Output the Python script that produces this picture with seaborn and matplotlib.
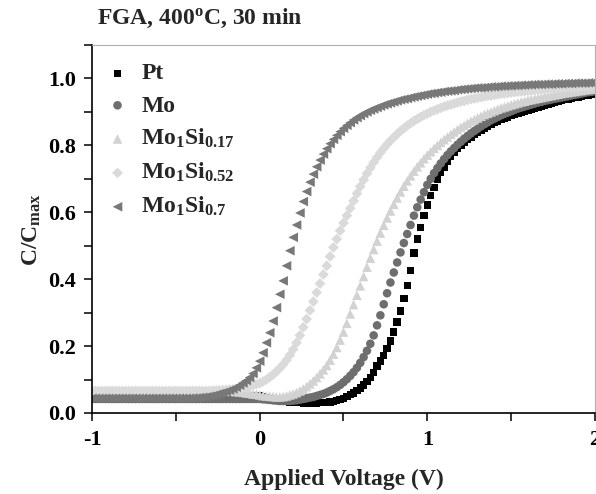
import numpy as np
import pandas as pd
import matplotlib
matplotlib.use("Agg")
import matplotlib.pyplot as plt
from matplotlib.ticker import MultipleLocator
import seaborn as sns

# ---------------- data ----------------
voltage = np.round(np.linspace(-1.0, 2.0, 151), 2)

pt = [
    0.052, 0.052, 0.052, 0.052, 0.052, 0.052, 0.052, 0.052, 0.052, 0.052,
    0.052, 0.052, 0.052, 0.052, 0.052, 0.052, 0.052, 0.052, 0.052, 0.052,
    0.052, 0.052, 0.052, 0.052, 0.052, 0.052, 0.052, 0.052, 0.052, 0.052,
    0.052, 0.052, 0.052, 0.052, 0.052, 0.052, 0.052, 0.052, 0.052, 0.052,
    0.052, 0.052, 0.052, 0.052, 0.052, 0.052, 0.052, 0.052, 0.052, 0.052,
    0.052, 0.050, 0.047, 0.044, 0.041, 0.039, 0.037, 0.035, 0.034, 0.033,
    0.032, 0.031, 0.031, 0.030, 0.030, 0.030, 0.030, 0.030, 0.031, 0.031,
    0.032, 0.033, 0.035, 0.037, 0.040, 0.044, 0.049, 0.055, 0.060, 0.067,
    0.075, 0.084, 0.094, 0.106, 0.122, 0.140, 0.155, 0.172, 0.192, 0.215,
    0.242, 0.272, 0.305, 0.342, 0.382, 0.425, 0.478, 0.520, 0.555, 0.590,
    0.622, 0.650, 0.675, 0.698, 0.718, 0.735, 0.751, 0.766, 0.779, 0.791,
    0.800, 0.809, 0.817, 0.825, 0.832, 0.839, 0.846, 0.852, 0.858, 0.863,
    0.868, 0.873, 0.877, 0.881, 0.885, 0.889, 0.892, 0.895, 0.898, 0.901,
    0.905, 0.908, 0.911, 0.914, 0.917, 0.920, 0.923, 0.926, 0.929, 0.932,
    0.935, 0.937, 0.939, 0.941, 0.943, 0.945, 0.947, 0.949, 0.951, 0.953,
    0.955,
]

mo = [
    0.042, 0.042, 0.042, 0.042, 0.042, 0.042, 0.042, 0.042, 0.042, 0.042,
    0.042, 0.042, 0.042, 0.042, 0.042, 0.042, 0.042, 0.042, 0.042, 0.042,
    0.042, 0.042, 0.042, 0.042, 0.042, 0.042, 0.042, 0.042, 0.042, 0.042,
    0.042, 0.042, 0.042, 0.042, 0.042, 0.042, 0.042, 0.042, 0.042, 0.042,
    0.042, 0.042, 0.042, 0.042, 0.042, 0.042, 0.042, 0.042, 0.042, 0.042,
    0.042, 0.041, 0.040, 0.039, 0.038, 0.037, 0.036, 0.036, 0.036, 0.036,
    0.037, 0.038, 0.040, 0.042, 0.044, 0.046, 0.048, 0.051, 0.054, 0.057,
    0.061, 0.066, 0.071, 0.077, 0.084, 0.092, 0.101, 0.111, 0.122, 0.135,
    0.150, 0.167, 0.186, 0.207, 0.232, 0.262, 0.292, 0.325, 0.358, 0.390,
    0.420, 0.450, 0.480, 0.508, 0.535, 0.562, 0.590, 0.615, 0.638, 0.660,
    0.682, 0.700, 0.717, 0.732, 0.746, 0.759, 0.771, 0.782, 0.792, 0.802,
    0.811, 0.820, 0.828, 0.836, 0.843, 0.850, 0.857, 0.863, 0.869, 0.875,
    0.880, 0.885, 0.890, 0.894, 0.898, 0.902, 0.906, 0.910, 0.913, 0.916,
    0.919, 0.922, 0.925, 0.928, 0.930, 0.933, 0.935, 0.937, 0.939, 0.941,
    0.943, 0.945, 0.947, 0.949, 0.951, 0.953, 0.955, 0.957, 0.959, 0.960,
    0.962,
]

mo1si017 = [
    0.066, 0.066, 0.066, 0.066, 0.066, 0.066, 0.066, 0.066, 0.066, 0.066,
    0.066, 0.066, 0.066, 0.066, 0.066, 0.066, 0.066, 0.066, 0.066, 0.066,
    0.066, 0.066, 0.066, 0.066, 0.066, 0.066, 0.066, 0.066, 0.066, 0.066,
    0.066, 0.066, 0.066, 0.066, 0.066, 0.066, 0.066, 0.066, 0.066, 0.066,
    0.066, 0.065, 0.065, 0.064, 0.063, 0.062, 0.060, 0.059, 0.057, 0.056,
    0.054, 0.052, 0.051, 0.050, 0.049, 0.048, 0.048, 0.049, 0.051, 0.054,
    0.057, 0.061, 0.066, 0.072, 0.079, 0.087, 0.096, 0.106, 0.117, 0.129,
    0.142, 0.158, 0.176, 0.196, 0.218, 0.242, 0.268, 0.296, 0.324, 0.352,
    0.380, 0.408, 0.436, 0.463, 0.489, 0.514, 0.538, 0.561, 0.583, 0.604,
    0.624, 0.643, 0.661, 0.678, 0.694, 0.709, 0.723, 0.736, 0.748, 0.760,
    0.771, 0.781, 0.791, 0.800, 0.809, 0.817, 0.825, 0.833, 0.840, 0.847,
    0.854, 0.860, 0.866, 0.872, 0.877, 0.882, 0.887, 0.892, 0.896, 0.900,
    0.904, 0.908, 0.912, 0.915, 0.918, 0.921, 0.924, 0.927, 0.930, 0.932,
    0.935, 0.937, 0.939, 0.941, 0.943, 0.945, 0.947, 0.949, 0.951, 0.953,
    0.955, 0.957, 0.958, 0.960, 0.961, 0.963, 0.964, 0.966, 0.967, 0.968,
    0.970,
]

mo1si052 = [
    0.066, 0.066, 0.066, 0.066, 0.066, 0.066, 0.066, 0.066, 0.066, 0.066,
    0.066, 0.066, 0.066, 0.066, 0.066, 0.066, 0.066, 0.066, 0.066, 0.066,
    0.066, 0.066, 0.066, 0.066, 0.066, 0.066, 0.066, 0.066, 0.066, 0.066,
    0.066, 0.066, 0.066, 0.066, 0.066, 0.066, 0.067, 0.067, 0.068, 0.068,
    0.069, 0.070, 0.071, 0.072, 0.074, 0.075, 0.077, 0.080, 0.083, 0.086,
    0.089, 0.094, 0.100, 0.107, 0.115, 0.124, 0.134, 0.145, 0.158, 0.173,
    0.190, 0.210, 0.232, 0.256, 0.281, 0.307, 0.333, 0.360, 0.387, 0.414,
    0.440, 0.468, 0.495, 0.520, 0.545, 0.568, 0.590, 0.612, 0.634, 0.656,
    0.677, 0.697, 0.716, 0.733, 0.749, 0.764, 0.778, 0.791, 0.803, 0.814,
    0.824, 0.834, 0.843, 0.851, 0.859, 0.866, 0.873, 0.879, 0.885, 0.890,
    0.895, 0.900, 0.904, 0.908, 0.912, 0.916, 0.919, 0.922, 0.925, 0.928,
    0.931, 0.933, 0.936, 0.938, 0.940, 0.942, 0.944, 0.946, 0.948, 0.949,
    0.951, 0.952, 0.954, 0.955, 0.956, 0.958, 0.959, 0.960, 0.961, 0.962,
    0.963, 0.964, 0.965, 0.966, 0.967, 0.968, 0.969, 0.970, 0.970, 0.971,
    0.972, 0.973, 0.973, 0.974, 0.975, 0.975, 0.976, 0.977, 0.977, 0.978,
    0.978,
]

mo1si07 = [
    0.044, 0.044, 0.044, 0.044, 0.044, 0.044, 0.044, 0.044, 0.044, 0.044,
    0.044, 0.044, 0.044, 0.044, 0.044, 0.044, 0.044, 0.044, 0.044, 0.044,
    0.044, 0.044, 0.044, 0.044, 0.044, 0.044, 0.044, 0.044, 0.044, 0.044,
    0.045, 0.045, 0.046, 0.047, 0.048, 0.050, 0.052, 0.055, 0.058, 0.061,
    0.064, 0.068, 0.072, 0.077, 0.083, 0.090, 0.097, 0.106, 0.118, 0.135,
    0.155, 0.180, 0.210, 0.240, 0.275, 0.315, 0.355, 0.395, 0.440, 0.485,
    0.525, 0.562, 0.598, 0.632, 0.662, 0.690, 0.714, 0.736, 0.756, 0.774,
    0.790, 0.805, 0.818, 0.830, 0.841, 0.851, 0.860, 0.868, 0.876, 0.883,
    0.889, 0.895, 0.900, 0.905, 0.909, 0.913, 0.917, 0.921, 0.924, 0.927,
    0.930, 0.933, 0.936, 0.938, 0.940, 0.943, 0.945, 0.947, 0.949, 0.951,
    0.953, 0.955, 0.956, 0.958, 0.959, 0.961, 0.962, 0.963, 0.964, 0.966,
    0.967, 0.968, 0.969, 0.970, 0.971, 0.972, 0.972, 0.973, 0.974, 0.975,
    0.975, 0.976, 0.977, 0.977, 0.978, 0.978, 0.979, 0.979, 0.980, 0.980,
    0.981, 0.981, 0.982, 0.982, 0.982, 0.983, 0.983, 0.983, 0.984, 0.984,
    0.984, 0.985, 0.985, 0.985, 0.986, 0.986, 0.986, 0.986, 0.987, 0.987,
    0.987,
]

series_labels = ["Pt", "Mo", "Mo$_{1}$Si$_{0.17}$", "Mo$_{1}$Si$_{0.52}$", "Mo$_{1}$Si$_{0.7}$"]
series_values = [pt, mo, mo1si017, mo1si052, mo1si07]
x_ticks = [-1, 0, 1, 2]
y_ticks = [0.0, 0.2, 0.4, 0.6, 0.8, 1.0]

# ---------------- styling ----------------
markers = ["s", "o", "^", "D", "<"]
colors = ["#000000", "#6e6e6e", "#d2d2d2", "#dadada", "#787878"]
sizes = [28, 38, 48, 30, 48]

sns.set_style("ticks")
plt.rcParams["font.family"] = ["Liberation Serif", "DejaVu Serif"]
plt.rcParams["font.weight"] = "bold"
plt.rcParams["mathtext.fontset"] = "custom"
plt.rcParams["mathtext.rm"] = "Liberation Serif:bold"
plt.rcParams["mathtext.it"] = "Liberation Serif:bold"
plt.rcParams["mathtext.bf"] = "Liberation Serif:bold"

fig = plt.figure(figsize=(5.96, 4.94), dpi=100)
ax = fig.add_axes([92 / 596, 1 - 413 / 494, (595 - 92) / 596, (413 - 45) / 494])

for lab, vals, m, c, s in zip(series_labels, series_values, markers, colors, sizes):
    df = pd.DataFrame({"V": voltage, "C": vals})
    sns.scatterplot(data=df, x="V", y="C", marker=m, color=c, s=s,
                    edgecolor="none", linewidth=0, label=lab, ax=ax)

ax.set_xlim(-1, 2)
ax.set_ylim(0, 1.1)
ax.set_xticks(x_ticks)
ax.set_xticklabels([str(t) for t in x_ticks])
ax.set_yticks(y_ticks)
ax.set_yticklabels([f"{t:.1f}" for t in y_ticks])
ax.xaxis.set_minor_locator(MultipleLocator(0.5))
ax.yaxis.set_minor_locator(MultipleLocator(0.1))
ax.tick_params(axis="both", which="both", direction="out", length=5.5, width=1.1,
               labelsize=16, colors="black")
ax.tick_params(axis="x", which="major", pad=7)
ax.tick_params(axis="y", which="major", pad=6)
for lbl in ax.get_xticklabels() + ax.get_yticklabels():
    lbl.set_fontweight("bold")

for side in ["left", "bottom"]:
    ax.spines[side].set_color("black")
    ax.spines[side].set_linewidth(1.2)
for side in ["top", "right"]:
    ax.spines[side].set_visible(True)
    ax.spines[side].set_color("#b0b0b0")
    ax.spines[side].set_linewidth(0.8)

ax.set_xlabel("Applied Voltage (V)", fontsize=17, fontweight="bold", labelpad=13)
ax.set_ylabel("C/C$_{\\mathrm{max}}$", fontsize=17, fontweight="bold", labelpad=4)

fig.text(97 / 596, 1 - 18 / 494, "FGA, 400$^{\\mathrm{o}}$C, 30 min", fontsize=17,
         fontweight="bold", ha="left", va="center")

leg = ax.legend(loc="upper left", bbox_to_anchor=(-0.015, 0.99), frameon=False,
                prop={"family": "Liberation Serif", "weight": "bold", "size": 17},
                handletextpad=0.2, handlelength=1.6, labelspacing=0.45,
                markerscale=1.0, borderaxespad=0.2)

fig.savefig("out.png", dpi=100)
